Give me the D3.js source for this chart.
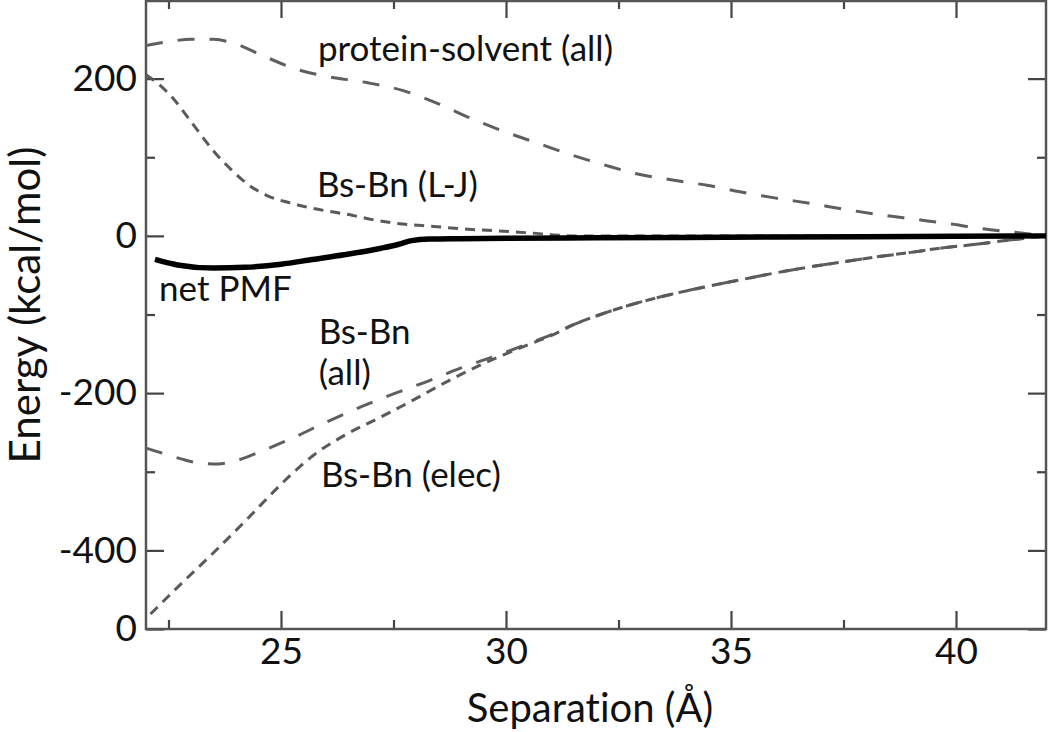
<!DOCTYPE html>
<html>
<head>
<meta charset="utf-8">
<script src="https://cdn.jsdelivr.net/npm/d3@7"></script>
<style>
  body { margin: 0; background: #fff; }
  text { font-family: Lato, "Open Sans", sans-serif; fill: #111; font-variant-ligatures: none; }
</style>
</head>
<body>
<svg width="1050" height="732"></svg>
<script>
// separation (Å) / energy (kcal/mol)
var psX  = [22.0, 22.5, 23.0, 23.5, 24.0, 24.6, 25.4, 26.0, 26.9, 27.7, 28.5, 29.2, 29.9, 30.7, 31.4, 32.2, 32.9, 33.7, 34.5, 35.2, 36.0, 36.8, 37.5, 38.3, 39.1, 39.9, 40.6, 41.4, 42.0];
var psY  = [242, 247, 250, 250, 244, 229, 211, 203, 195, 185, 168, 150, 134, 118, 104, 90, 79, 71, 64, 56, 48, 41, 34, 27, 21, 15, 9, 4, 0];

var ljX  = [22.0, 22.3, 22.6, 22.9, 23.2, 23.5, 23.9, 24.3, 24.7, 25.2, 25.7, 26.2, 26.6, 27.0, 27.7, 28.4, 29.0, 29.6, 30.2, 30.6, 31.0, 31.5, 35.0, 42.0];
var ljY  = [205, 192, 175, 153, 130, 108, 84, 64, 51, 42, 35, 30, 26, 21, 15, 12, 9, 7, 5, 3.5, 1.5, 0, 0, 0];

var pmfX = [22.2, 22.7, 23.5, 24.2, 25.0, 25.7, 26.4, 27.2, 27.6, 27.9, 28.3, 29.0, 30.0, 32.0, 34.0, 36.0, 38.0, 40.0, 42.0];
var pmfY = [-30, -37, -41, -40, -36, -30, -24, -16, -11, -6, -4, -3.5, -3, -2.5, -2, -1.5, -1, -0.5, 0];

var allX = [22.0, 22.4, 22.8, 23.2, 23.6, 24.0, 24.6, 25.3, 26.0, 26.8, 27.5, 28.3, 29.0, 29.8, 30.5, 31.0, 31.5, 32.2, 33.0, 33.7, 34.5, 35.2, 36.0, 36.7, 37.5, 38.2, 39.0, 39.6, 40.4, 41.1, 42.0];
var allY = [-270, -277, -284, -289, -290, -286, -273, -256, -237, -217, -201, -184, -168, -152, -137, -126, -113, -98, -84, -74, -64, -56, -47, -40, -33, -27, -21, -16, -11, -6, 0];

var elecX = [22.1, 22.7, 23.5, 24.2, 25.0, 25.2, 25.7, 26.4, 27.2, 27.9, 28.7, 29.4, 30.0, 30.6, 31.0, 31.5, 32.2, 33.0, 33.7, 34.5, 35.2, 36.0, 36.7, 37.5, 38.2, 39.0, 39.6, 40.4, 41.1, 42.0];
var elecY = [-481, -447, -403, -363, -316, -305, -280, -254, -231, -210, -185, -165, -150, -136, -127, -113, -98, -84, -74, -64, -56, -47, -40, -33, -27, -21, -16, -11, -6, 0];

var xMajor = [25, 30, 35, 40];
var xMinor = [22.5, 27.5, 32.5, 37.5];
var yMajor = [200, 0, -200, -400, -500];
var yMajorLabels = ["200", "0", "-200", "-400", "0"];
var yMinor = [100, -100, -300];

var labels = [
  { text: "protein-solvent (all)", x: 25.82, y: 222 },
  { text: "Bs-Bn (L-J)", x: 25.8, y: 50 },
  { text: "net PMF", x: 22.29, y: -83 },
  { text: "Bs-Bn", x: 25.84, y: -138 },
  { text: "(all)", x: 25.84, y: -190 },
  { text: "Bs-Bn (elec)", x: 25.89, y: -320 }
];

var plotL = 146, plotR = 1046, plotT = 0, plotB = 629;

var svg = d3.select("svg");

var x = d3.scaleLinear().domain([22, 42]).range([plotL, plotR]);
var y = d3.scaleLinear().domain([-500, 300]).range([plotB, plotT]);

// inward ticks on all four sides
function ticks(axis, vals, size, fmt) {
  return axis.tickValues(vals).tickSize(-size).tickPadding(9).tickFormat(fmt);
}
var none = function() { return ""; };

var gB = svg.append("g").attr("transform", "translate(0," + plotB + ")");
gB.call(ticks(d3.axisBottom(x), xMajor, 18, d3.format("d")));
gB.append("g").call(ticks(d3.axisBottom(x), xMinor, 9, none));

var gT = svg.append("g").attr("transform", "translate(0," + plotT + ")");
gT.call(ticks(d3.axisTop(x), xMajor, 18, none));
gT.append("g").call(ticks(d3.axisTop(x), xMinor, 9, none));

var gL = svg.append("g").attr("transform", "translate(" + plotL + ",0)");
gL.call(ticks(d3.axisLeft(y), yMajor, 18, function(d, i) { return yMajorLabels[i]; }));
gL.append("g").call(ticks(d3.axisLeft(y), yMinor, 9, none));

var gR = svg.append("g").attr("transform", "translate(" + plotR + ",0)");
gR.call(ticks(d3.axisRight(y), yMajor, 18, none));
gR.append("g").call(ticks(d3.axisRight(y), yMinor, 9, none));

svg.selectAll(".domain").remove();
svg.selectAll(".tick line").attr("stroke", "#444").attr("stroke-width", 2.2);
svg.selectAll(".tick text").attr("font-size", 37).attr("fill", "#111")
  .style("font-family", "Lato, 'Open Sans', sans-serif");

svg.append("rect")
  .attr("x", plotL).attr("y", plotT + 1)
  .attr("width", plotR - plotL).attr("height", plotB - plotT - 1)
  .attr("fill", "none").attr("stroke", "#555").attr("stroke-width", 2.5);

var line = d3.line()
  .x(function(d) { return x(d[0]); })
  .y(function(d) { return y(d[1]); })
  .curve(d3.curveMonotoneX);

function pair(xs, ys) { return xs.map(function(v, i) { return [v, ys[i]]; }); }

var series = [
  { data: pair(psX, psY), dash: "17,15", w: 3, c: "#5f5f5f" },
  { data: pair(allX, allY), dash: "17,15", w: 3, c: "#5f5f5f" },
  { data: pair(ljX, ljY), dash: "10,7", w: 3, c: "#5a5a5a" },
  { data: pair(elecX, elecY), dash: "10,7", w: 3, c: "#5a5a5a" },
  { data: pair(pmfX, pmfY), dash: null, w: 5.5, c: "#000" }
];

svg.selectAll("path.series")
  .data(series)
  .enter()
  .append("path")
  .attr("class", "series")
  .attr("d", function(d) { return line(d.data); })
  .attr("fill", "none")
  .attr("stroke", function(d) { return d.c; })
  .attr("stroke-width", function(d) { return d.w; })
  .attr("stroke-dasharray", function(d) { return d.dash; });

svg.selectAll("text.lbl")
  .data(labels)
  .enter()
  .append("text")
  .attr("class", "lbl")
  .attr("x", function(d) { return x(d.x); })
  .attr("y", function(d) { return y(d.y); })
  .attr("font-size", 35)
  .text(function(d) { return d.text; });

// axis titles
svg.append("text")
  .attr("x", 590).attr("y", 722)
  .attr("text-anchor", "middle")
  .attr("font-size", 40)
  .text("Separation (Å)");

svg.append("text")
  .attr("transform", "translate(40,305) rotate(-90)")
  .attr("text-anchor", "middle")
  .attr("font-size", 42)
  .text("Energy (kcal/mol)");
</script>
</body>
</html>
